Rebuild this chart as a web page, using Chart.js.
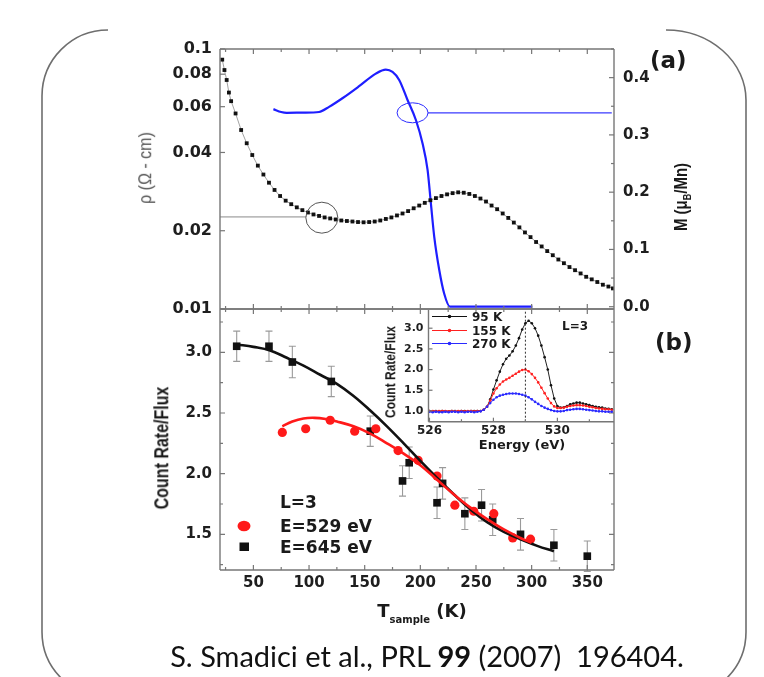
<!DOCTYPE html>
<html>
<head>
<meta charset="utf-8">
<script src="https://cdn.jsdelivr.net/npm/chart.js@4.4.1/dist/chart.umd.min.js"></script>
<style>
  html, body { margin: 0; padding: 0; background: #fff; }
  #stage { position: relative; width: 764px; height: 677px; overflow: hidden; background: #fff; }
  #stage canvas, #stage svg { position: absolute; left: 0; top: 0; }
  .t { position: absolute; white-space: nowrap; font-family: 'DejaVu Sans', sans-serif; font-weight: bold;
       color: #1a1a1a; line-height: 1; transform: translate(-50%, -50%); }
  .l { transform: translate(0, -50%); }
  .v { font-family: 'Liberation Sans', Arial, sans-serif; }
  sub { font-size: 60%; vertical-align: -0.35em; line-height: 0; }
</style>
</head>
<body>
<div id="stage">
  <svg width="764" height="677" viewBox="0 0 764 677">
    <g fill="none" stroke="#6e6e6e" stroke-width="1.6">
      <path d="M108 30 A66 66 0 0 0 42 96 L42 632 A65 65 0 0 0 107 697"/>
      <path d="M666 30 A80 70 0 0 1 746 100 L746 632 A65 65 0 0 1 681 697"/>
    </g>
    <!-- legend symbols, panel (b) -->
    <ellipse cx="244" cy="526" rx="6.5" ry="5.2" fill="#ff1a1a"/>
    <rect x="239.5" y="542.5" width="9.5" height="8.5" fill="#111"/>
    <!-- legend symbols, inset -->
    <g stroke-width="1">
      <line x1="432" y1="316.5" x2="467" y2="316.5" stroke="#111"/>
      <line x1="432" y1="330.5" x2="467" y2="330.5" stroke="#ff2020"/>
      <line x1="432" y1="343.5" x2="467" y2="343.5" stroke="#2a2aff"/>
    </g>
    <circle cx="449.5" cy="316.5" r="1.8" fill="#111"/>
    <circle cx="449.5" cy="330.5" r="1.8" fill="#ff2020"/>
    <circle cx="449.5" cy="343.5" r="1.8" fill="#2a2aff"/>
  </svg>
  <canvas id="chartA" width="764" height="677"></canvas>
  <canvas id="chartB" width="764" height="677"></canvas>
  <canvas id="chartC" width="764" height="677"></canvas>

  <!-- axis titles and annotations -->
  <div class="t v" style="left:145px;top:168px;font-weight:normal;color:#555;font-size:16px;transform:translate(-50%,-50%) rotate(-90deg) scaleY(1.2);">ρ (Ω - cm)</div>
  <div class="t v" style="left:680px;top:197px;font-size:15px;transform:translate(-50%,-50%) rotate(-90deg) scaleY(1.25);">M (μ<sub>B</sub>/Mn)</div>
  <div class="t l" style="left:650px;top:60px;font-size:23px;">(a)</div>
  <div class="t l" style="left:655px;top:342px;font-size:23px;">(b)</div>
  <div class="t v" style="left:162px;top:448px;font-size:16px;transform:translate(-50%,-50%) rotate(-90deg) scaleY(1.3);">Count Rate/Flux</div>
  <div class="t" style="left:422px;top:611px;font-size:18px;">T<sub style="font-size:10px;vertical-align:-6px;">sample</sub> (K)</div>
  <div class="t l" style="left:280px;top:502px;font-size:17px;">L=3</div>
  <div class="t l" style="left:280px;top:526px;font-size:17px;">E=529 eV</div>
  <div class="t l" style="left:280px;top:547px;font-size:17px;">E=645 eV</div>

  <!-- inset annotations -->
  <div class="t v" style="left:390px;top:372px;font-size:12px;transform:translate(-50%,-50%) rotate(-90deg) scaleY(1.25);">Count Rate/Flux</div>
  <div class="t" style="left:522px;top:444px;font-size:13px;">Energy (eV)</div>
  <div class="t l" style="left:472px;top:317px;font-size:12px;">95 K</div>
  <div class="t l" style="left:472px;top:331px;font-size:12px;">155 K</div>
  <div class="t l" style="left:472px;top:344px;font-size:12px;">270 K</div>
  <div class="t l" style="left:562px;top:326px;font-size:12px;">L=3</div>

  <div class="t" style="left:427px;top:655px;font-family:Lato,'Open Sans',sans-serif;font-weight:normal;font-size:29px;color:#111;">S. Smadici et al., PRL <b>99</b> (2007)&nbsp; 196404.</div>
</div>

<script>
// ---------- Panel (a): resistivity (log axis) and magnetisation vs temperature ----------
const rhoTemps = [22, 24, 26, 28, 30, 34, 39, 44, 49, 54, 59, 64, 69, 74, 79, 84, 89, 94, 99, 104,
  109, 114, 119, 124, 129, 134, 139, 144, 149, 154, 159, 164, 169, 174, 179, 184, 189, 194, 199, 204,
  209, 214, 219, 224, 229, 234, 239, 244, 249, 254, 259, 264, 269, 274, 279, 284, 289, 294, 299, 304,
  309, 314, 319, 324, 329, 334, 339, 344, 349, 354, 359, 364, 369, 373];
const rhoValues = [0.091, 0.083, 0.076, 0.068, 0.063, 0.0565, 0.0488, 0.0434, 0.0391, 0.0356, 0.0329,
  0.0306, 0.0287, 0.0272, 0.0261, 0.0253, 0.0246, 0.0240, 0.0235, 0.0231, 0.0228, 0.0225, 0.0223,
  0.0221, 0.0219, 0.0218, 0.0217, 0.0216, 0.02155, 0.0216, 0.0217, 0.0219, 0.0222, 0.0225, 0.0229,
  0.0233, 0.0238, 0.0244, 0.0250, 0.0256, 0.0262, 0.0267, 0.0272, 0.0276, 0.0279, 0.0281, 0.0280,
  0.0277, 0.0272, 0.0266, 0.0259, 0.0250, 0.0242, 0.0233, 0.0224, 0.0215, 0.0206, 0.0197, 0.0189,
  0.0181, 0.0174, 0.0167, 0.0161, 0.0155, 0.0150, 0.0145, 0.0141, 0.0137, 0.0133, 0.0130, 0.0127,
  0.0124, 0.0122, 0.0120];

const magTemps = [68, 75, 80, 95, 109, 118, 130, 145, 160, 169, 175, 181, 188.5, 196, 202, 206.5,
  209.5, 212.5, 217, 221.4, 226.6, 300.7];
const magValues = [0.345, 0.340, 0.3386, 0.339, 0.340, 0.349, 0.364, 0.385, 0.407, 0.414, 0.410,
  0.396, 0.361, 0.326, 0.285, 0.239, 0.180, 0.122, 0.064, 0.023, 0.0, 0.0];

// guide lines pointing each curve to its axis, with the ring that marks the curve
const rhoGuideTemps = [20, 97.5];
const rhoGuideLevel = 0.0226;
const rhoRing = [111.5, 0.02245];
const magGuideTemps = [206.8, 372];
const magGuideLevel = 0.3386;
const magRing = [193, 0.3386];

const rhoTicks = [0.01, 0.02, 0.04, 0.06, 0.08, 0.1];
const rhoTickLabels = ['0.01', '0.02', '0.04', '0.06', '0.08', '0.1'];
const magTicks = [0, 0.1, 0.2, 0.3, 0.4];
const magMinor = [0.05, 0.15, 0.25, 0.35, 0.45];
const tempTicks = [50, 100, 150, 200, 250, 300, 350];
const tempMinor = [25, 75, 125, 175, 225, 275, 325];

// ---------- Panel (b): peak intensity vs sample temperature ----------
const resTemps = [76, 97, 119, 141, 160, 180, 198, 215, 231, 248, 266, 283, 299];           // E = 529 eV
const resValues = [2.34, 2.37, 2.44, 2.35, 2.37, 2.19, 2.11, 1.98, 1.74, 1.69, 1.67, 1.47, 1.46];
const mnTemps = [35, 64, 85, 120, 155, 184, 190, 215, 220, 240, 255, 265, 290, 320, 350];   // E = 645 eV
const mnValues = [3.05, 3.05, 2.92, 2.76, 2.35, 1.94, 2.09, 1.76, 1.92, 1.67, 1.74, 1.62, 1.50, 1.41, 1.32];
const mnErrors = [0.125, 0.125, 0.13, 0.125, 0.125, 0.125, 0.13, 0.13, 0.13, 0.13, 0.13, 0.13, 0.13, 0.13, 0.125];

const resFitTemps = [76, 85, 95, 105, 115, 125, 140, 155, 170, 185, 200, 215, 230, 245, 260, 275, 290, 300];
const resFitValues = [2.39, 2.43, 2.455, 2.46, 2.45, 2.43, 2.39, 2.33, 2.25, 2.165, 2.07, 1.95, 1.83,
  1.72, 1.625, 1.54, 1.47, 1.43];
const mnFitTemps = [35, 50, 65, 80, 95, 110, 125, 140, 155, 170, 185, 200, 215, 230, 245, 260, 275, 290, 305, 320];
const mnFitValues = [3.065, 3.045, 3.015, 2.955, 2.89, 2.815, 2.74, 2.64, 2.52, 2.39, 2.25, 2.105,
  1.965, 1.83, 1.705, 1.60, 1.52, 1.46, 1.405, 1.36];

const rateTicks = [1.5, 2.0, 2.5, 3.0];
const rateMinor = [1.25, 1.75, 2.25, 2.75, 3.25];

// ---------- Inset: energy scans at L = 3 ----------
const energies = [526.0, 526.1, 526.2, 526.3, 526.4, 526.5, 526.6, 526.7, 526.8, 526.9,
  527.0, 527.1, 527.2, 527.3, 527.4, 527.5, 527.6, 527.7, 527.8, 527.9,
  528.0, 528.1, 528.2, 528.3, 528.4, 528.5, 528.6, 528.7, 528.8, 528.9,
  529.0, 529.1, 529.2, 529.3, 529.4, 529.5, 529.6, 529.7, 529.8, 529.9,
  530.0, 530.1, 530.2, 530.3, 530.4, 530.5, 530.6, 530.7, 530.8, 530.9,
  531.0, 531.1, 531.2, 531.3, 531.4, 531.5, 531.6, 531.7];
const scan95K = [1.00, 0.99, 1.00, 0.99, 1.00, 0.99, 0.99, 1.00, 1.00, 0.99, 1.00, 1.00, 0.99, 1.00, 1.00, 1.00,
  1.00, 1.03, 1.10, 1.28, 1.52, 1.74, 1.95, 2.13, 2.26, 2.34, 2.44, 2.58, 2.76, 2.97, 3.12, 3.18, 3.12, 3.00,
  2.82, 2.58, 2.30, 2.00, 1.62, 1.30, 1.12, 1.08, 1.09, 1.12, 1.16, 1.18, 1.20, 1.20, 1.18, 1.16, 1.14, 1.12,
  1.10, 1.09, 1.08, 1.06, 1.05, 1.04];
const scan155K = [1.00, 1.00, 0.99, 1.00, 1.00, 1.00, 0.99, 1.00, 0.99, 1.00, 1.00, 0.99, 1.00, 1.00, 0.99, 1.00,
  1.00, 1.03, 1.10, 1.25, 1.42, 1.55, 1.64, 1.71, 1.76, 1.80, 1.85, 1.90, 1.95, 1.99, 2.00, 1.96, 1.89, 1.80,
  1.69, 1.56, 1.43, 1.30, 1.19, 1.11, 1.07, 1.07, 1.08, 1.10, 1.12, 1.13, 1.14, 1.14, 1.13, 1.12, 1.10, 1.09,
  1.07, 1.06, 1.05, 1.04, 1.04, 1.03];
const scan270K = [0.98, 0.97, 0.98, 0.97, 0.97, 0.98, 0.97, 0.98, 0.98, 0.97, 0.98, 0.97, 0.98, 0.98, 0.97, 0.98,
  0.99, 1.03, 1.10, 1.19, 1.27, 1.33, 1.37, 1.39, 1.41, 1.42, 1.42, 1.42, 1.41, 1.39, 1.37, 1.33, 1.28, 1.22,
  1.17, 1.12, 1.08, 1.05, 1.02, 1.00, 0.99, 0.99, 1.00, 1.02, 1.03, 1.04, 1.05, 1.05, 1.04, 1.03, 1.02, 1.01,
  1.00, 0.99, 0.99, 0.98, 0.98, 0.98];
const markedEnergy = 529;
const energyTicks = [526, 528, 530];
const energyMinor = [527, 529, 531];
const insetTicks = [1.0, 1.5, 2.0, 2.5, 3.0];

// ---------- helpers ----------
const pts = (xs, ys) => xs.map((x, i) => ({ x, y: ys[i] }));
const fixedTicks = (vals) => (scale) => { scale.ticks = vals.map(v => ({ value: v })); };

Chart.defaults.font.family = "'DejaVu Sans', sans-serif";
Chart.defaults.font.weight = 'bold';
Chart.defaults.color = '#1e1e1e';

// inward tick marks and the plot frame, placed through each chart's scales
const innerTicks = {
  id: 'innerTicks',
  afterDatasetsDraw(chart, args, opts) {
    const { ctx, chartArea: a } = chart;
    ctx.save();
    ctx.strokeStyle = opts.color || '#777';
    ctx.lineWidth = opts.width || 1.4;
    ctx.beginPath();
    for (const e of opts.edges || []) {
      if (e === 'top') { ctx.moveTo(a.left, a.top); ctx.lineTo(a.right, a.top); }
      if (e === 'bottom') { ctx.moveTo(a.left, a.bottom); ctx.lineTo(a.right, a.bottom); }
      if (e === 'left') { ctx.moveTo(a.left, a.top); ctx.lineTo(a.left, a.bottom); }
      if (e === 'right') { ctx.moveTo(a.right, a.top); ctx.lineTo(a.right, a.bottom); }
    }
    ctx.stroke();
    ctx.lineWidth = 1.2;
    for (const spec of opts.axes || []) {
      const s = chart.scales[spec.id];
      const groups = [[spec.major || [], opts.major || 5], [spec.minor || [], opts.minor || 3]];
      for (const [vals, len] of groups) {
        for (const v of vals) {
          const p = s.getPixelForValue(v);
          ctx.beginPath();
          for (const side of spec.sides) {
            if (side === 'bottom' || side === 'top') {
              if (p < a.left - 0.5 || p > a.right + 0.5) continue;
              const y0 = side === 'bottom' ? a.bottom : a.top;
              ctx.moveTo(p, y0); ctx.lineTo(p, side === 'bottom' ? y0 - len : y0 + len);
            } else {
              if (p < a.top - 0.5 || p > a.bottom + 0.5) continue;
              const x0 = side === 'left' ? a.left : a.right;
              ctx.moveTo(x0, p); ctx.lineTo(side === 'left' ? x0 + len : x0 - len, p);
            }
          }
          ctx.stroke();
        }
      }
    }
    ctx.restore();
  }
};

// rings that tie a curve to its axis
const curveRings = {
  id: 'curveRings',
  afterDatasetsDraw(chart, args, opts) {
    const { ctx } = chart;
    ctx.save();
    for (const r of opts.rings || []) {
      const x = chart.scales.x.getPixelForValue(r.at[0]);
      const y = chart.scales[r.axis].getPixelForValue(r.at[1]);
      ctx.strokeStyle = r.color;
      ctx.lineWidth = 1;
      ctx.beginPath();
      ctx.ellipse(x, y, r.rx, r.ry, 0, 0, Math.PI * 2);
      ctx.stroke();
    }
    ctx.restore();
  }
};

// vertical error bars for one dataset
const errorBars = {
  id: 'errorBars',
  beforeDatasetsDraw(chart, args, opts) {
    if (!opts.errors) return;
    const { ctx } = chart;
    const ds = chart.data.datasets[opts.datasetIndex];
    const sx = chart.scales.x, sy = chart.scales.y;
    ctx.save();
    ctx.strokeStyle = opts.color;
    ctx.lineWidth = 1.1;
    ds.data.forEach((p, i) => {
      const x = sx.getPixelForValue(p.x);
      const y1 = sy.getPixelForValue(p.y + opts.errors[i]);
      const y2 = sy.getPixelForValue(p.y - opts.errors[i]);
      ctx.beginPath();
      ctx.moveTo(x, y1); ctx.lineTo(x, y2);
      ctx.moveTo(x - 3.5, y1); ctx.lineTo(x + 3.5, y1);
      ctx.moveTo(x - 3.5, y2); ctx.lineTo(x + 3.5, y2);
      ctx.stroke();
    });
    ctx.restore();
  }
};

const base = {
  responsive: false,
  animation: false,
  events: [],
};
const hiddenGrid = { display: false, drawTicks: false };

// ---------- chart (a) ----------
new Chart(document.getElementById('chartA'), {
  type: 'scatter',
  plugins: [innerTicks, curveRings],
  data: {
    datasets: [
      { data: pts(rhoGuideTemps, [rhoGuideLevel, rhoGuideLevel]), yAxisID: 'y', showLine: true,
        borderColor: '#8a8a8a', borderWidth: 1, pointRadius: 0 },
      { data: pts(magGuideTemps, [magGuideLevel, magGuideLevel]), yAxisID: 'y1', showLine: true,
        borderColor: '#3a3aff', borderWidth: 1.2, pointRadius: 0 },
      { data: pts(rhoTemps, rhoValues), yAxisID: 'y', showLine: true, borderColor: '#8a8a8a', borderWidth: 0.8,
        pointStyle: 'rect', pointRadius: 2.7, pointBackgroundColor: '#111', pointBorderWidth: 0 },
      { data: pts(magTemps, magValues), yAxisID: 'y1', showLine: true, borderColor: '#1e1eff', borderWidth: 2.2,
        pointRadius: 0, cubicInterpolationMode: 'monotone' }
    ]
  },
  options: {
    ...base,
    layout: { padding: { left: 140, right: 90, top: 49, bottom: 368 } },
    plugins: {
      legend: { display: false }, tooltip: { enabled: false },
      innerTicks: {
        edges: ['top', 'bottom', 'left', 'right'],
        axes: [
          { id: 'x', major: tempTicks, minor: tempMinor, sides: ['top', 'bottom'] },
          { id: 'y', major: rhoTicks, sides: ['left'] },
          { id: 'y1', major: magTicks, minor: magMinor, sides: ['right'] }
        ]
      },
      curveRings: {
        rings: [
          { at: rhoRing, axis: 'y', rx: 16, ry: 15.5, color: '#555' },
          { at: magRing, axis: 'y1', rx: 15.5, ry: 10, color: '#2a2aff' }
        ]
      }
    },
    scales: {
      x: { type: 'linear', min: 20, max: 374, display: false },
      y: {
        type: 'logarithmic', position: 'left', min: 0.01, max: 0.1,
        afterBuildTicks: fixedTicks(rhoTicks),
        afterFit: (s) => { s.width = 80; },
        ticks: { font: { size: 16 }, padding: 8, callback: (v, i) => rhoTickLabels[i] },
        grid: hiddenGrid, border: { display: false }
      },
      y1: {
        type: 'linear', position: 'right', min: -0.004, max: 0.45,
        afterBuildTicks: fixedTicks(magTicks),
        afterFit: (s) => { s.width = 60; },
        ticks: { font: { size: 15 }, padding: 9, callback: (v) => v.toFixed(1) },
        grid: hiddenGrid, border: { display: false }
      }
    }
  }
});

// ---------- chart (b) ----------
new Chart(document.getElementById('chartB'), {
  type: 'scatter',
  plugins: [innerTicks, errorBars],
  data: {
    datasets: [
      { data: pts(resFitTemps, resFitValues), showLine: true, borderColor: '#ff1a1a', borderWidth: 2.6,
        pointRadius: 0, tension: 0.4 },
      { data: pts(mnFitTemps, mnFitValues), showLine: true, borderColor: '#111', borderWidth: 2.6,
        pointRadius: 0, tension: 0.4 },
      { data: pts(resTemps, resValues), pointStyle: 'circle', pointRadius: 4.6,
        pointBackgroundColor: '#ff1a1a', pointBorderWidth: 0 },
      { data: pts(mnTemps, mnValues), pointStyle: 'rect', pointRadius: 5.4,
        pointBackgroundColor: '#111', pointBorderWidth: 0 }
    ]
  },
  options: {
    ...base,
    layout: { padding: { left: 140, right: 150, top: 309, bottom: 77 } },
    plugins: {
      legend: { display: false }, tooltip: { enabled: false },
      errorBars: { datasetIndex: 3, errors: mnErrors, color: '#9a9a9a' },
      innerTicks: {
        edges: ['top', 'bottom', 'left', 'right'],
        axes: [
          { id: 'x', major: tempTicks, minor: tempMinor, sides: ['top', 'bottom'] },
          { id: 'y', major: rateTicks, minor: rateMinor, sides: ['left', 'right'] }
        ]
      }
    },
    scales: {
      x: {
        type: 'linear', min: 20, max: 374,
        afterBuildTicks: fixedTicks(tempTicks),
        afterFit: (s) => { s.height = 30; },
        ticks: { font: { size: 15 }, padding: 4 },
        grid: hiddenGrid, border: { display: false }
      },
      y: {
        type: 'linear', min: 1.206, max: 3.357,
        afterBuildTicks: fixedTicks(rateTicks),
        afterFit: (s) => { s.width = 80; },
        ticks: { font: { size: 15 }, padding: 8, callback: (v) => v.toFixed(1) },
        grid: hiddenGrid, border: { display: false }
      }
    }
  }
});

// ---------- inset ----------
new Chart(document.getElementById('chartC'), {
  type: 'scatter',
  plugins: [innerTicks],
  data: {
    datasets: [
      { data: pts([markedEnergy, markedEnergy], [0.74, 3.44]), showLine: true, borderColor: '#333',
        borderWidth: 1, borderDash: [2, 2], pointRadius: 0 },
      { data: pts(energies, scan270K), showLine: true, borderColor: '#2a2aff', borderWidth: 1,
        pointRadius: 1.3, pointBackgroundColor: '#2a2aff', pointBorderWidth: 0 },
      { data: pts(energies, scan155K), showLine: true, borderColor: '#ff2020', borderWidth: 1,
        pointRadius: 1.3, pointBackgroundColor: '#ff2020', pointBorderWidth: 0 },
      { data: pts(energies, scan95K), showLine: true, borderColor: '#222', borderWidth: 1,
        pointRadius: 1.3, pointBackgroundColor: '#111', pointBorderWidth: 0 }
    ]
  },
  options: {
    ...base,
    layout: { padding: { left: 398.5, right: 150, top: 310, bottom: 235.3 } },
    plugins: {
      legend: { display: false }, tooltip: { enabled: false },
      innerTicks: {
        edges: ['left', 'bottom'], major: 4, minor: 2.5,
        axes: [
          { id: 'x', major: energyTicks, minor: energyMinor, sides: ['bottom'] },
          { id: 'y', major: insetTicks, sides: ['left'] }
        ]
      }
    },
    scales: {
      x: {
        type: 'linear', min: 525.97, max: 531.77,
        afterBuildTicks: fixedTicks(energyTicks),
        afterFit: (s) => { s.height = 20; },
        ticks: { font: { size: 12 }, padding: 2, callback: (v) => String(v) },
        grid: hiddenGrid, border: { display: false }
      },
      y: {
        type: 'linear', min: 0.74, max: 3.44,
        afterBuildTicks: fixedTicks(insetTicks),
        afterFit: (s) => { s.width = 30; },
        ticks: { font: { size: 11 }, padding: 5, callback: (v) => v.toFixed(1) },
        grid: hiddenGrid, border: { display: false }
      }
    }
  }
});
</script>
</body>
</html>
